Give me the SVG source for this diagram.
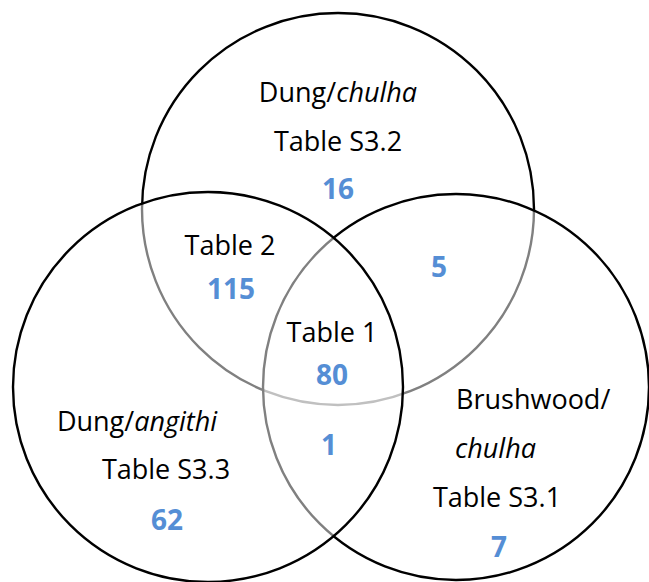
<svg xmlns="http://www.w3.org/2000/svg" width="649" height="582" viewBox="0 0 649 582">
<style>
.c{fill:#ffffff;fill-opacity:0.5;stroke:#000;stroke-width:2.4}
.t{font-family:"Open Sans","Noto Sans",sans-serif;font-size:27px;fill:#000}
.n{font-family:"Open Sans","Noto Sans",sans-serif;font-size:28px;font-weight:bold;fill:#558ed5}
.m{text-anchor:middle}
</style>
<rect width="649" height="582" fill="#fff"/>
<g id="top">
<circle class="c" cx="338" cy="209" r="196"/>
</g>
<g id="right">
<circle class="c" cx="456" cy="387" r="193"/>
</g>
<g id="left">
<circle class="c" cx="208" cy="387" r="195"/>
</g>
<g id="connectors"></g>
<g id="labels">
<text class="t m" x="338" y="102">Dung/<tspan font-style="italic">chulha</tspan></text>
<text class="t m" x="338" y="151">Table S3.2</text>
<text class="n m" x="338" y="199">16</text>
<text class="t m" x="230" y="255">Table 2</text>
<text class="n m" x="231" y="299">115</text>
<text class="t m" x="332" y="342">Table 1</text>
<text class="n m" x="332" y="385">80</text>
<text class="n m" x="439" y="277">5</text>
<text class="t m" x="137" y="431">Dung/<tspan font-style="italic">angithi</tspan></text>
<text class="t m" x="166" y="479">Table S3.3</text>
<text class="n m" x="167" y="530">62</text>
<text class="n m" x="329" y="455">1</text>
<text class="t" x="456" y="409">Brushwood/</text>
<text class="t" x="455" y="458" font-style="italic">chulha</text>
<text class="t m" x="497" y="507">Table S3.1</text>
<text class="n m" x="499" y="557">7</text>
</g>
</svg>
